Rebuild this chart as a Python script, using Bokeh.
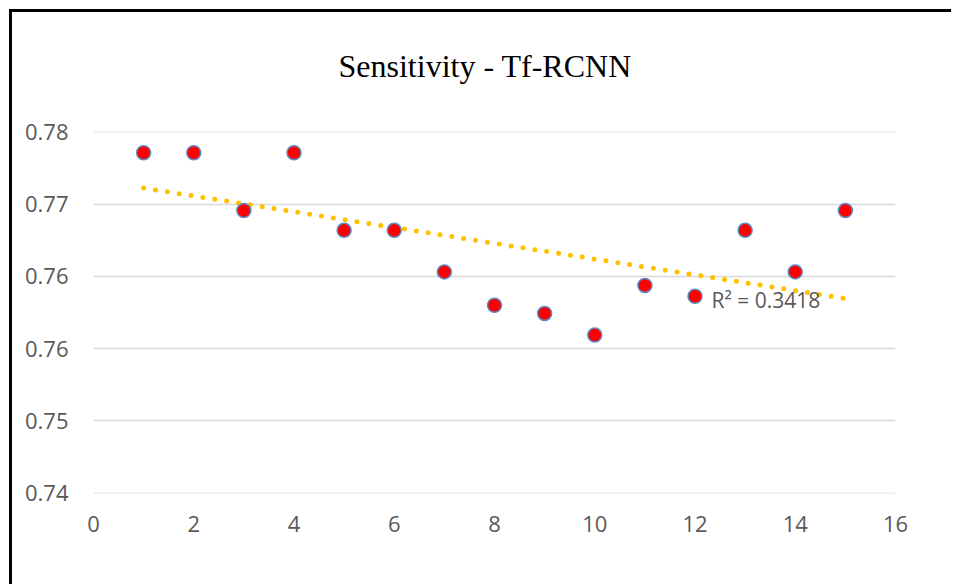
import numpy as np
from bokeh.plotting import figure
from bokeh.models import FixedTicker, ColumnDataSource, Title
from bokeh.core.properties import value
from bokeh.embed import file_html
from bokeh.resources import INLINE

# ---- data ----
run = [1, 2, 3, 4, 5, 6, 7, 8, 9, 10, 11, 12, 13, 14, 15]
sensitivity = [0.7777, 0.7777, 0.7713, 0.7777, 0.7691, 0.7691, 0.7645, 0.7608,
               0.7599, 0.7575, 0.7630, 0.7618, 0.7691, 0.7645, 0.7713]
x_ticks = [0, 2, 4, 6, 8, 10, 12, 14, 16]
y_ticks = [0.74, 0.748, 0.756, 0.764, 0.772, 0.78]
y_tick_labels = ["0.74", "0.75", "0.76", "0.76", "0.77", "0.78"]
r2_text = "R² = 0.3418"
title_text = "Sensitivity - Tf-RCNN"

# linear trendline fitted to the series
slope, intercept = np.polyfit(run, sensitivity, 1)
trend_x = [run[0], run[-1]]
trend_y = [slope * x + intercept for x in trend_x]

W, H = 942, 575
eps = 0.00005
p = figure(width=W, height=H, x_range=(0, 16), y_range=(0.74 - eps, 0.78 + eps),
           output_backend="svg", toolbar_location=None, title=None,
           min_border_left=81, min_border_right=59, min_border_top=119, min_border_bottom=94)

# an empty title closest to the frame acts as a gap, the real title sits above it
gap_title = Title(text=" ", text_font_size="1px", standoff=45)
main_title = Title(text=title_text, align="left", offset=245, standoff=0,
                   text_font="Liberation Serif", text_font_size="32px",
                   text_font_style="normal", text_color="#000000")
p.add_layout(gap_title, "above")
p.add_layout(main_title, "above")

p.outline_line_color = None
p.background_fill_color = "white"
p.border_fill_color = "white"

# axes
lab_font = "Open Sans"
lab_color = "#595959"
p.xaxis.ticker = FixedTicker(ticks=x_ticks)
p.yaxis.ticker = FixedTicker(ticks=y_ticks)
p.yaxis.major_label_overrides = {t: l for t, l in zip(y_ticks, y_tick_labels)}
for ax in (p.xaxis[0], p.yaxis[0]):
    ax.axis_line_color = None
    ax.major_tick_line_color = None
    ax.minor_tick_line_color = None
    ax.major_label_text_font = lab_font
    ax.major_label_text_font_size = "22px"
    ax.major_label_text_color = lab_color
p.xaxis.major_label_standoff = 16
p.yaxis.major_label_standoff = 19

p.xgrid.grid_line_color = None
p.ygrid.grid_line_color = "#d9d9d9"
p.ygrid.grid_line_width = 1.5

# trendline
p.line(trend_x, trend_y, line_color="#ffc000", line_width=5, line_dash="0 12", line_cap="round")

# points
src = ColumnDataSource(dict(x=run, y=sensitivity))
p.scatter("x", "y", source=src, size=14, fill_color="#ff0000", line_color="#5b8ac6", line_width=1.5)

# R² label
p.text(x=[12.33], y=[0.76144], text=[r2_text], text_font=value(lab_font), text_font_size="21px",
       text_color=lab_color, text_baseline="middle", text_align="left")

# black left/top frame of the chart area, offset from the page corner
p.margin = (9, 0, 0, 9)
p.styles = {"border-left": "3px solid black", "border-top": "3px solid black"}

open("out.html", "w").write(file_html(p, INLINE))
